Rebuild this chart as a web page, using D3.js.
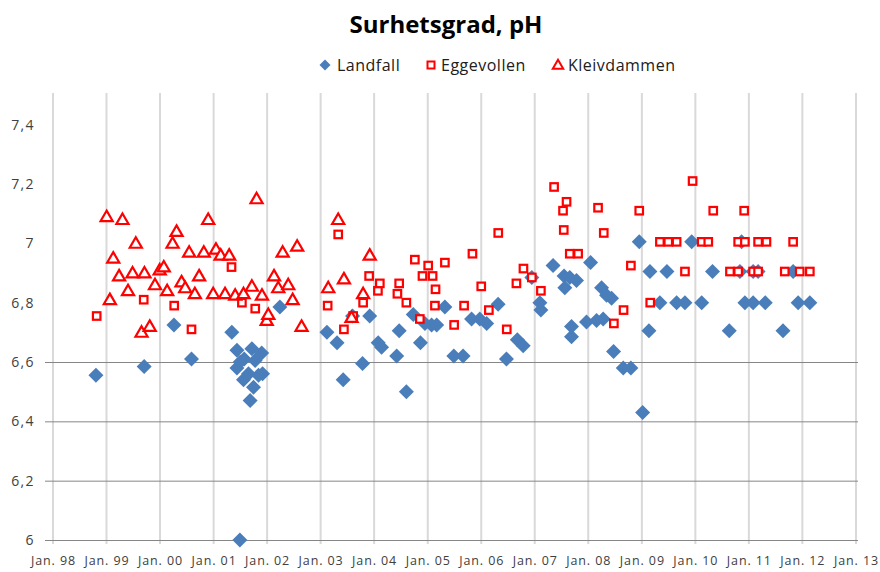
<!DOCTYPE html>
<html>
<head>
<meta charset="utf-8">
<script src="https://cdn.jsdelivr.net/npm/d3@7"></script>
<style>
  body { margin: 0; background: #fff; }
  svg { display: block; font-family: "Open Sans", sans-serif; }
</style>
</head>
<body>
<div id="chart"></div>
<script>
// Chart text and ticks
const title = 'Surhetsgrad, pH';
const seriesNames = ['Landfall', 'Eggevollen', 'Kleivdammen'];
const yTicks = [6, 6.2, 6.4, 6.6, 6.8, 7, 7.2, 7.4];
const yGridTicks = [6, 6.2, 6.4, 6.6];
const xTickYears = [1998, 1999, 2000, 2001, 2002, 2003, 2004, 2005, 2006, 2007, 2008, 2009, 2010, 2011, 2012, 2013];

// Samples: [date, pH]
const landfall = [
  ['1998-10-21', 6.555], ['1999-09-15', 6.585], ['2000-04-05', 6.725], ['2000-08-03', 6.61],
  ['2001-05-05', 6.70], ['2001-06-09', 6.64], ['2001-06-09', 6.58], ['2001-06-29', 6.00],
  ['2001-07-01', 6.60], ['2001-07-24', 6.54], ['2001-07-29', 6.61], ['2001-08-27', 6.56],
  ['2001-09-07', 6.47], ['2001-09-19', 6.645], ['2001-09-30', 6.515], ['2001-10-11', 6.605],
  ['2001-11-03', 6.555], ['2001-11-25', 6.63], ['2001-12-01', 6.56],
  ['2002-03-29', 6.785], ['2003-02-13', 6.70], ['2003-04-23', 6.665], ['2003-06-04', 6.54],
  ['2003-08-07', 6.755], ['2003-10-14', 6.595], ['2003-12-02', 6.755], ['2004-01-29', 6.665],
  ['2004-02-21', 6.65], ['2004-06-03', 6.62], ['2004-06-20', 6.705], ['2004-08-08', 6.50],
  ['2004-09-24', 6.76], ['2004-11-12', 6.665], ['2004-12-13', 6.73], ['2005-01-27', 6.725],
  ['2005-03-03', 6.725], ['2005-04-28', 6.785], ['2005-06-28', 6.62], ['2005-08-30', 6.62],
  ['2005-10-27', 6.745], ['2005-12-22', 6.745], ['2006-02-07', 6.73], ['2006-04-26', 6.795],
  ['2006-06-22', 6.61], ['2006-09-04', 6.675], ['2006-10-14', 6.655], ['2006-12-12', 6.885],
  ['2007-02-05', 6.80], ['2007-02-12', 6.775], ['2007-05-06', 6.925], ['2007-07-20', 6.89],
  ['2007-07-25', 6.85], ['2007-08-28', 6.885], ['2007-09-09', 6.72], ['2007-09-09', 6.685],
  ['2007-10-13', 6.875], ['2007-12-20', 6.735], ['2008-01-17', 6.935], ['2008-02-27', 6.74],
  ['2008-04-01', 6.85], ['2008-04-12', 6.745], ['2008-05-05', 6.825], ['2008-06-08', 6.815],
  ['2008-06-22', 6.635], ['2008-08-27', 6.58], ['2008-10-18', 6.58], ['2008-12-14', 7.005],
  ['2009-01-06', 6.43], ['2009-02-18', 6.705], ['2009-02-25', 6.905], ['2009-05-04', 6.80],
  ['2009-06-21', 6.905], ['2009-08-26', 6.80], ['2009-10-22', 6.80], ['2009-12-07', 7.005],
  ['2010-02-13', 6.80], ['2010-04-28', 6.905], ['2010-08-20', 6.705], ['2010-11-01', 6.905],
  ['2010-11-12', 7.005], ['2010-12-05', 6.80], ['2011-01-30', 6.905], ['2011-01-30', 6.80],
  ['2011-03-05', 6.905], ['2011-04-23', 6.80], ['2011-08-22', 6.705], ['2011-10-30', 6.905],
  ['2011-12-03', 6.80], ['2012-02-21', 6.80]
];

const eggevollen = [
  ['1998-10-26', 6.755], ['1999-09-12', 6.81], ['2000-04-07', 6.79], ['2000-08-03', 6.71],
  ['2001-05-03', 6.92], ['2001-07-13', 6.80], ['2001-10-12', 6.78], ['2003-02-18', 6.79],
  ['2003-05-01', 7.03], ['2003-06-09', 6.71], ['2003-08-11', 6.755], ['2003-10-18', 6.80],
  ['2003-11-28', 6.89], ['2004-01-27', 6.84], ['2004-02-09', 6.865], ['2004-06-08', 6.83],
  ['2004-06-20', 6.865], ['2004-08-08', 6.80], ['2004-10-05', 6.945], ['2004-11-08', 6.745],
  ['2004-11-26', 6.89], ['2005-01-04', 6.925], ['2005-02-03', 6.89], ['2005-02-19', 6.79],
  ['2005-02-23', 6.845], ['2005-04-28', 6.935], ['2005-06-30', 6.725], ['2005-09-06', 6.79],
  ['2005-11-02', 6.965], ['2006-01-01', 6.855], ['2006-02-22', 6.775], ['2006-04-27', 7.035],
  ['2006-06-24', 6.71], ['2006-08-29', 6.865], ['2006-10-16', 6.915], ['2006-12-12', 6.885],
  ['2007-02-12', 6.84], ['2007-05-13', 7.19], ['2007-07-13', 7.11], ['2007-07-18', 7.045],
  ['2007-08-06', 7.14], ['2007-08-28', 6.965], ['2007-10-24', 6.965], ['2008-03-08', 7.12],
  ['2008-04-16', 7.035], ['2008-06-24', 6.73], ['2008-08-29', 6.775], ['2008-10-18', 6.925],
  ['2008-12-14', 7.11], ['2009-02-27', 6.80], ['2009-05-04', 7.005], ['2009-06-30', 7.005],
  ['2009-08-26', 7.005], ['2009-10-22', 6.905], ['2009-12-13', 7.21], ['2010-02-13', 7.005],
  ['2010-03-30', 7.005], ['2010-05-03', 7.11], ['2010-08-25', 6.905], ['2010-10-20', 6.905],
  ['2010-10-20', 7.005], ['2010-11-30', 7.11], ['2010-12-05', 7.005], ['2011-01-30', 6.905],
  ['2011-03-05', 6.905], ['2011-03-05', 7.005], ['2011-05-01', 7.005], ['2011-09-03', 6.905],
  ['2011-10-30', 7.005], ['2011-12-14', 6.905], ['2012-02-21', 6.905]
];

const kleivdammen = [
  ['1999-01-02', 7.09], ['1999-01-24', 6.81], ['1999-02-16', 6.95], ['1999-03-28', 6.89],
  ['1999-04-20', 7.08], ['1999-05-28', 6.84], ['1999-06-28', 6.90], ['1999-07-20', 7.00],
  ['1999-08-28', 6.70], ['1999-09-17', 6.90], ['1999-10-23', 6.72], ['1999-11-28', 6.86],
  ['1999-12-30', 6.91], ['2000-01-27', 6.92], ['2000-02-19', 6.84], ['2000-03-27', 7.00],
  ['2000-04-23', 7.04], ['2000-05-27', 6.87], ['2000-06-21', 6.85], ['2000-07-18', 6.97],
  ['2000-08-26', 6.83], ['2000-09-24', 6.89], ['2000-10-26', 6.97], ['2000-11-25', 7.08],
  ['2000-12-29', 6.83], ['2001-01-17', 6.98], ['2001-02-18', 6.96], ['2001-03-20', 6.83],
  ['2001-04-17', 6.96], ['2001-05-28', 6.825], ['2001-07-24', 6.83], ['2001-09-19', 6.855],
  ['2001-10-21', 7.15], ['2001-11-27', 6.825], ['2001-12-29', 6.74], ['2002-01-09', 6.76],
  ['2002-02-17', 6.89], ['2002-03-18', 6.85], ['2002-04-17', 6.97], ['2002-05-25', 6.86],
  ['2002-06-24', 6.81], ['2002-07-25', 6.99], ['2002-08-24', 6.72], ['2003-02-22', 6.85],
  ['2003-05-01', 7.08], ['2003-06-09', 6.88], ['2003-07-31', 6.75], ['2003-10-18', 6.83],
  ['2003-12-02', 6.96]
];

const width = 880, height = 572;
const plot = { left: 45, right: 858, top: 93, bottom: 540 };

const parseDate = d3.timeParse('%Y-%m-%d');
const locale = d3.formatLocale({ decimal: ',', thousands: ' ', grouping: [3], currency: ['', ''] });
const fmtY = locale.format('.1~f');
const fmtX = d => 'Jan. ' + d3.timeFormat('%y')(d);

const x = d3.scaleTime()
  .domain([new Date(1998, 0, 1), new Date(2013, 0, 1)])
  .range([53, 856]);
const y = d3.scaleLinear().domain([6, 7.5]).range([540, 95]);

const svg = d3.select('#chart').append('svg')
  .attr('width', width)
  .attr('height', height);

// Vertical gridlines
svg.append('g').selectAll('line')
  .data(xTickYears.map(yr => new Date(yr, 0, 1)))
  .join('line')
  .attr('x1', d => x(d)).attr('x2', d => x(d))
  .attr('y1', plot.top).attr('y2', plot.bottom + 4)
  .attr('stroke', '#d9d9d9')
  .attr('stroke-width', 2);

// Horizontal gridlines (only the lower ones show in the original)
svg.append('g').selectAll('line')
  .data(yGridTicks)
  .join('line')
  .attr('x1', plot.left).attr('x2', plot.right)
  .attr('y1', d => y(d) + 0.5).attr('y2', d => y(d) + 0.5)
  .attr('stroke', '#868686')
  .attr('stroke-width', 1);

// Y axis labels
const yAxis = svg.append('g')
  .attr('transform', 'translate(35,0)')
  .call(d3.axisLeft(y).tickValues(yTicks).tickFormat(fmtY).tickSize(0).tickPadding(0));
yAxis.select('.domain').remove();
yAxis.selectAll('text')
  .attr('font-family', '"Open Sans", sans-serif')
  .attr('font-size', 14)
  .attr('letter-spacing', 1.4)
  .attr('fill', '#404040');

// X axis labels
const xAxis = svg.append('g')
  .attr('transform', `translate(0,${plot.bottom})`)
  .call(d3.axisBottom(x)
    .tickValues(xTickYears.map(yr => new Date(yr, 0, 1)))
    .tickFormat(fmtX).tickSize(0).tickPadding(16));
xAxis.select('.domain').remove();
xAxis.selectAll('text')
  .attr('font-family', '"Open Sans", sans-serif')
  .attr('font-size', 12.5)
  .attr('letter-spacing', 0.9)
  .attr('fill', '#404040');

// Marker shapes
const diamond = r => `M0,${-r}L${r},0L0,${r}L${-r},0Z`;
const triangle = s => `M0,${-s * 0.55}L${s * 0.55},${s * 0.4}L${-s * 0.55},${s * 0.4}Z`;

const blue = '#4a7ebb';
const red = '#ff0000';

// Landfall
svg.append('g').selectAll('path')
  .data(landfall)
  .join('path')
  .attr('transform', d => `translate(${x(parseDate(d[0]))},${y(d[1])})`)
  .attr('d', diamond(7.5))
  .attr('fill', blue);

// Eggevollen
svg.append('g').selectAll('rect')
  .data(eggevollen)
  .join('rect')
  .attr('x', d => x(parseDate(d[0])) - 3.75)
  .attr('y', d => y(d[1]) - 3.75)
  .attr('width', 7.5).attr('height', 7.5)
  .attr('fill', '#fff')
  .attr('stroke', red)
  .attr('stroke-width', 2.2);

// Kleivdammen
svg.append('g').selectAll('path')
  .data(kleivdammen)
  .join('path')
  .attr('transform', d => `translate(${x(parseDate(d[0]))},${y(d[1])})`)
  .attr('d', triangle(11))
  .attr('fill', '#fff')
  .attr('stroke', red)
  .attr('stroke-width', 2.2)
  .attr('stroke-linejoin', 'miter');

// Title
svg.append('text')
  .attr('x', 446).attr('y', 33)
  .attr('text-anchor', 'middle')
  .attr('font-size', 24)
  .attr('font-weight', 'bold')
  .attr('fill', '#000')
  .text(title);

// Legend
const legendX = [325, 431, 558];
const legend = svg.append('g').selectAll('g')
  .data(seriesNames)
  .join('g')
  .attr('transform', (d, i) => `translate(${legendX[i]},65)`);

legend.each(function (d, i) {
  const g = d3.select(this);
  if (i === 0) {
    g.append('path').attr('d', diamond(5.5)).attr('fill', blue);
  } else if (i === 1) {
    g.append('rect').attr('x', -3.5).attr('y', -3.5).attr('width', 7).attr('height', 7)
      .attr('fill', '#fff').attr('stroke', red).attr('stroke-width', 2);
  } else {
    g.append('path').attr('d', triangle(9.5)).attr('fill', '#fff')
      .attr('stroke', red).attr('stroke-width', 2);
  }
  g.append('text')
    .attr('x', i === 0 ? 12 : 10)
    .attr('y', 6)
    .attr('font-size', 16)
    .attr('letter-spacing', 0.5)
    .attr('fill', '#202020')
    .text(d);
});
</script>
</body>
</html>
